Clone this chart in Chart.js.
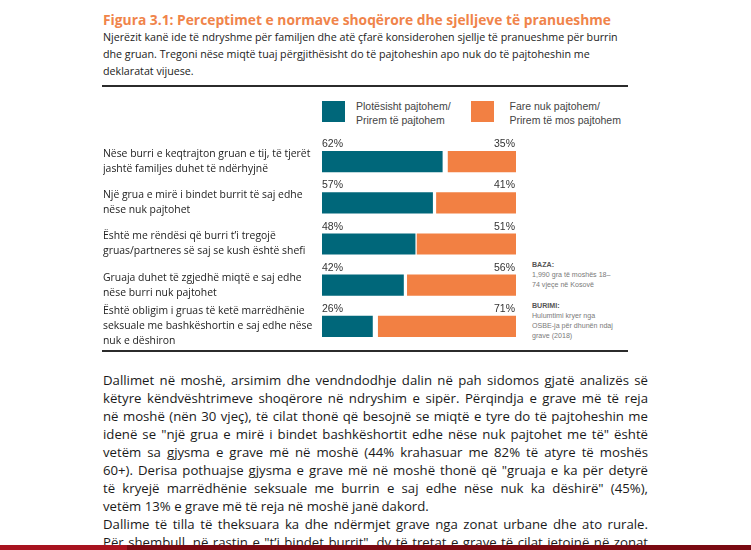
<!DOCTYPE html>
<html><head><meta charset="utf-8">
<script src="https://cdn.jsdelivr.net/npm/chart.js@4.4.0/dist/chart.umd.min.js"></script>
<style>
html,body{margin:0;padding:0;background:#fff;width:751px;height:550px;overflow:hidden;position:relative;font-family:'Open Sans',sans-serif;}
.abs{position:absolute;white-space:nowrap;}
#title{left:103px;top:12px;font-weight:700;font-size:13.8px;line-height:16px;color:#F0844A;}
#sub{left:103px;top:28.5px;font-size:10.7px;line-height:17px;color:#222;}
.rule{position:absolute;left:102px;width:526px;height:2px;background:#2b2b2b;}
.lg-box{position:absolute;width:23px;height:21px;top:101px;}
.lg-txt{position:absolute;font-family:'Liberation Sans',Arial,sans-serif;font-size:10.5px;color:#444;line-height:14px;top:99px;white-space:nowrap;}
.note{position:absolute;font-family:'Liberation Sans',Arial,sans-serif;font-size:7.1px;line-height:10px;color:#7a7a7a;left:532px;white-space:nowrap;}
.note b{color:#555;}
#para{position:absolute;left:103px;top:371px;width:545px;font-size:13.2px;line-height:18px;color:#1a1a1a;}
#para div{text-align:justify;text-align-last:justify;white-space:nowrap;}
#para div.last{text-align-last:left;}
#wrap{position:absolute;left:103px;top:131px;width:419px;height:216px;}
#redL{position:absolute;left:0;top:545px;width:127px;height:5px;background:#A8131F;}
#redR{position:absolute;left:127px;top:545px;width:624px;height:5px;background:#7A0A12;}
</style>
</head><body>
<div id="title" class="abs">Figura 3.1: Perceptimet e normave shoqërore dhe sjelljeve të pranueshme</div>
<div id="sub" class="abs">Njerëzit kanë ide të ndryshme për familjen dhe atë çfarë konsiderohen sjellje të pranueshme për burrin<br>dhe gruan. Tregoni nëse miqtë tuaj përgjithësisht do të pajtoheshin apo nuk do të pajtoheshin me<br>deklaratat vijuese.</div>
<div class="rule" style="top:85px"></div>
<div class="rule" style="top:350px"></div>
<div id="legend"></div>
<div class="note" style="top:260px"><b>BAZA:</b><br>1,990 gra të moshës 18–<br>74 vjeçe në Kosovë</div>
<div class="note" style="top:301px"><b>BURIMI:</b><br>Hulumtimi kryer nga<br>OSBE-ja për dhunën ndaj<br>grave (2018)</div>
<div id="wrap"><canvas id="c"></canvas></div>
<div id="para">
<div>Dallimet në moshë, arsimim dhe vendndodhje dalin në pah sidomos gjatë analizës së</div>
<div>këtyre këndvështrimeve shoqërore në ndryshim e sipër. Përqindja e grave më të reja</div>
<div>në moshë (nën 30 vjeç), të cilat thonë që besojnë se miqtë e tyre do të pajtoheshin me</div>
<div>idenë se "një grua e mirë i bindet bashkëshortit edhe nëse nuk pajtohet me të" është</div>
<div>vetëm sa gjysma e grave më në moshë (44% krahasuar me 82% të atyre të moshës</div>
<div>60+). Derisa pothuajse gjysma e grave më në moshë thonë që "gruaja e ka për detyrë</div>
<div>të kryejë marrëdhënie seksuale me burrin e saj edhe nëse nuk ka dëshirë" (45%),</div>
<div class="last">vetëm 13% e grave më të reja në moshë janë dakord.</div>
<div>Dallime të tilla të theksuara ka dhe ndërmjet grave nga zonat urbane dhe ato rurale.</div>
<div>Për shembull, në rastin e "t’i bindet burrit", dy të tretat e grave të cilat jetojnë në zonat</div>
</div>
<div id="redL"></div><div id="redR"></div>
<script>
const categories = [
  ['Nëse burri e keqtrajton gruan e tij, të tjerët', 'jashtë familjes duhet të ndërhyjnë'],
  ['Një grua e mirë i bindet burrit të saj edhe', 'nëse nuk pajtohet'],
  ['Është me rëndësi që burri t’i tregojë', 'gruas/partneres së saj se kush është shefi'],
  ['Gruaja duhet të zgjedhë miqtë e saj edhe', 'nëse burri nuk pajtohet'],
  ['Është obligim i gruas të ketë marrëdhënie', 'seksuale me bashkëshortin e saj edhe nëse', 'nuk e dëshiron']
];
const agree = [62, 57, 48, 42, 26];
const disagree = [35, 41, 51, 56, 71];
const seriesNames = [
  ['Plotësisht pajtohem/', 'Prirem të pajtohem'],
  ['Fare nuk pajtohem/', 'Prirem të mos pajtohem']
];
const seriesColors = ['#00677A', '#F28043'];

// legend (HTML, from series arrays)
const legendPos = [{box: 322, txt: 356}, {box: 471, txt: 509.5}];
const lg = document.getElementById('legend');
seriesNames.forEach((n, i) => {
  const b = document.createElement('div');
  b.className = 'lg-box'; b.style.left = legendPos[i].box + 'px'; b.style.background = seriesColors[i];
  const t = document.createElement('div');
  t.className = 'lg-txt'; t.style.left = legendPos[i].txt + 'px'; t.innerHTML = n.join('<br>');
  lg.appendChild(b); lg.appendChild(t);
});

const pctLabels = {
  id: 'pctLabels',
  afterDatasetsDraw(chart) {
    const ctx = chart.ctx;
    ctx.save();
    ctx.font = '10.5px "Liberation Sans", Arial, sans-serif';
    ctx.fillStyle = '#333';
    ctx.textBaseline = 'middle';
    const vals = [agree, disagree];
    chart.data.datasets.forEach((ds, di) => {
      chart.getDatasetMeta(di).data.forEach((bar, i) => {
        const p = bar.getProps(['x', 'y', 'base', 'height'], true);
        const top = p.y - p.height / 2;
        if (di === 0) { ctx.textAlign = 'left'; ctx.fillText(vals[di][i] + '%', Math.min(p.x, p.base), top - 7); }
        else { ctx.textAlign = 'right'; ctx.fillText(vals[di][i] + '%', Math.max(p.x, p.base) - 1, top - 7); }
      });
    });
    ctx.restore();
  }
};

new Chart(document.getElementById('c'), {
  type: 'bar',
  data: {
    labels: categories,
    datasets: [
      { label: seriesNames[0].join(' '), data: agree.map(v => [0, v]), backgroundColor: seriesColors[0] },
      { label: seriesNames[1].join(' '), data: disagree.map(v => [100 - v, 100]), backgroundColor: seriesColors[1] }
    ]
  },
  options: {
    indexAxis: 'y',
    responsive: true,
    maintainAspectRatio: false,
    animation: false,
    layout: { padding: { top: 10, right: 6, left: 0, bottom: 0 } },
    datasets: { bar: { grouped: false, barThickness: 20.5, borderWidth: 0 } },
    plugins: { legend: { display: false }, tooltip: { enabled: false } },
    scales: {
      x: { min: 0, max: 100, display: false },
      y: {
        grid: { display: false }, border: { display: false },
        afterFit(scale) { scale.width = 219; scale.paddingTop = 0; scale.paddingBottom = 0; },
        ticks: {
          autoSkip: false, crossAlign: 'far', color: '#222', padding: 0,
          font: { family: "'Open Sans', sans-serif", size: 10.4, lineHeight: 1.45 }
        }
      }
    }
  },
  plugins: [pctLabels]
});
</script>
</body></html>
